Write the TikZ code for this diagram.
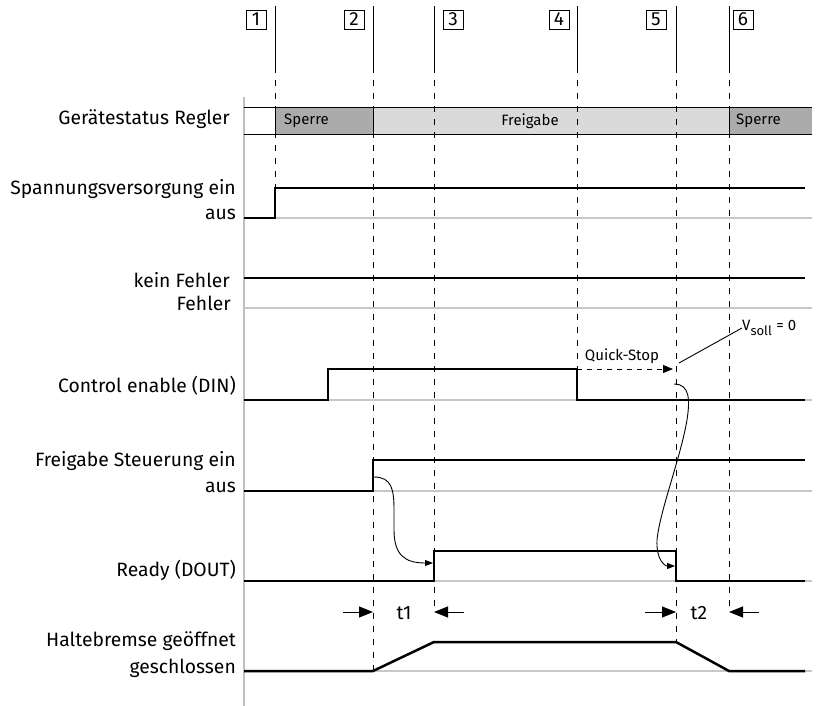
\documentclass[tikz,border=0pt]{standalone}
\usepackage{fontspec}
\setmainfont{Fira Sans}
\usetikzlibrary{arrows.meta}

\definecolor{sperregray}{HTML}{ABABAB}
\definecolor{freigray}{HTML}{DADADA}

\tikzset{
	sig/.style={line width=2.5pt},
	baseline/.style={line width=1.2pt, black!22},
	markline/.style={line width=0.9pt},
	markdash/.style={line width=0.9pt, dash pattern=on 6pt off 7pt},
	lab/.style={anchor=east, inner sep=0pt, font=\fontsize{19.3}{19.3}\selectfont},
	small/.style={inner sep=0pt, font=\fontsize{15}{15}\selectfont},
	numbox/.style={draw, line width=0.8pt, minimum width=20pt, minimum height=19pt, inner sep=0pt, font=\fontsize{19}{19}\selectfont},
	tarrow/.style={line width=1pt, -{Triangle[length=14pt,width=11pt]}},
	curvearrow/.style={line width=0.9pt, -{Triangle[length=8pt,width=6pt]}}
}

\begin{document}
\begin{tikzpicture}
	[x=1pt,y=-1pt]

\useasboundingbox (0,0) rectangle (819,706);

	% axis and gray base lines
	\draw[line width=1.8pt, black!25] (244,97)--(244,706);
	\foreach \yy in {218,308,400,491,581,671}
	{
	 \draw[baseline] (244,\yy)--(812,\yy);
	}

	% Geraetestatus band
	\fill[sperregray] (275,107) rectangle (373,134);
	\fill[freigray] (373,107) rectangle (729,134);
	\fill[sperregray] (729,107) rectangle (812,134);
	\draw[line width=0.9pt] (244,107)--(812,107);
	\draw[line width=0.9pt] (244,134)--(812,134);
	\foreach \ii in {275,373,729}
	{
	 \draw[line width=0.9pt] (\ii,107)--(\ii,134);
	}
	\node[small, anchor=west] (sperreA) at (284,121) {Sperre};
	\node[small] (freigabe) at (530,121) {Freigabe};
	\node[small, anchor=west] (sperreB) at (736,121) {Sperre};

	% time markers
	\foreach \ii/\yy/\nn/\bx in {275/188/1/256, 373/671/2/354, 434/612/3/453, 577/369/4/559, 676/641/5/656, 729/612/6/743}
	{
	 \draw[markline] (\ii,6)--(\ii,67);
	 \draw[markdash] (\ii,67)--(\ii,\yy);
	 \node[numbox] (box\nn) at (\bx,19.5) {\nn};
	}

	% labels
	\node[lab] (status) at (230,119) {Gerätestatus Regler};
	\node[lab] (spgein) at (236,189) {Spannungsversorgung ein};
	\node[lab] (spgaus) at (236,214) {aus};
	\node[lab] (keinf) at (230,280) {kein Fehler};
	\node[lab] (fehler) at (231,303) {Fehler};
	\node[lab] (control) at (236,386) {Control enable (DIN)};
	\node[lab] (frein) at (236,461) {Freigabe Steuerung ein};
	\node[lab] (fraus) at (236,487) {aus};
	\node[lab] (ready) at (236,570) {Ready (DOUT)};
	\node[lab] (hbauf) at (236,641) {Haltebremse geöffnet};
	\node[lab] (hbzu) at (236,668) {geschlossen};

	% signals
	\draw[sig] (244,218)--(275,218)--(275,188)--(805,188);
	\draw[sig] (244,278)--(805,278);
	\draw[sig] (244,400)--(328,400)--(328,369)--(577,369)--(577,400)--(805,400);
	\draw[sig] (244,491)--(373,491)--(373,460)--(805,460);
	\draw[sig] (244,581)--(434,581)--(434,551)--(676,551)--(676,581)--(805,581);
	\draw[sig] (244,671)--(373,671)--(434,642)--(676,642)--(729,671)--(805,671);

	% quick stop
	\coordinate (qsa) at (577,369);
	\coordinate (qsb) at (673,369);
	\draw[line width=1pt, dash pattern=on 5pt off 5pt, -{Triangle[length=10pt,width=8pt]}] (qsa)--(qsb);
	\node[small, anchor=south] (qstop) at (622,364) {Quick-Stop};
	\node[small, anchor=west] (vsoll) at (742,328) {V\textsubscript{\fontsize{13}{13}\selectfont soll} = 0};
	\coordinate (vs) at (679,363);
	\draw[line width=0.9pt] (vs)--(vsoll.west);

	% causal arrows
	\coordinate (c1a) at (374,477);
	\coordinate (c1b) at (433,563);
	\draw[curvearrow] (c1a) .. controls (392,477) and (394,490) .. (394,510)
		-- (394,530) .. controls (394,555) and (405,563) .. (c1b);
	\coordinate (c2a) at (674,384);
	\coordinate (c2b) at (675,566);
	\draw[curvearrow] (c2a) .. controls (690,384) and (690,400) .. (687,420)
		.. controls (680,460) and (660,510) .. (657,540)
		.. controls (656,560) and (665,566) .. (c2b);

	% delay times
	\coordinate (t1a) at (343,612);
	\coordinate (t1b) at (373,612);
	\coordinate (t1c) at (464,612);
	\coordinate (t1d) at (434,612);
	\draw[tarrow] (t1a)--(t1b);
	\draw[tarrow] (t1c)--(t1d);
	\node[lab, anchor=center] (tone) at (404,613) {t1};
	\coordinate (t2a) at (645,612);
	\coordinate (t2b) at (676,612);
	\coordinate (t2c) at (759,612);
	\coordinate (t2d) at (729,612);
	\draw[tarrow] (t2a)--(t2b);
	\draw[tarrow] (t2c)--(t2d);
	\node[lab, anchor=center] (ttwo) at (699,613) {t2};

\end{tikzpicture}
\end{document}
